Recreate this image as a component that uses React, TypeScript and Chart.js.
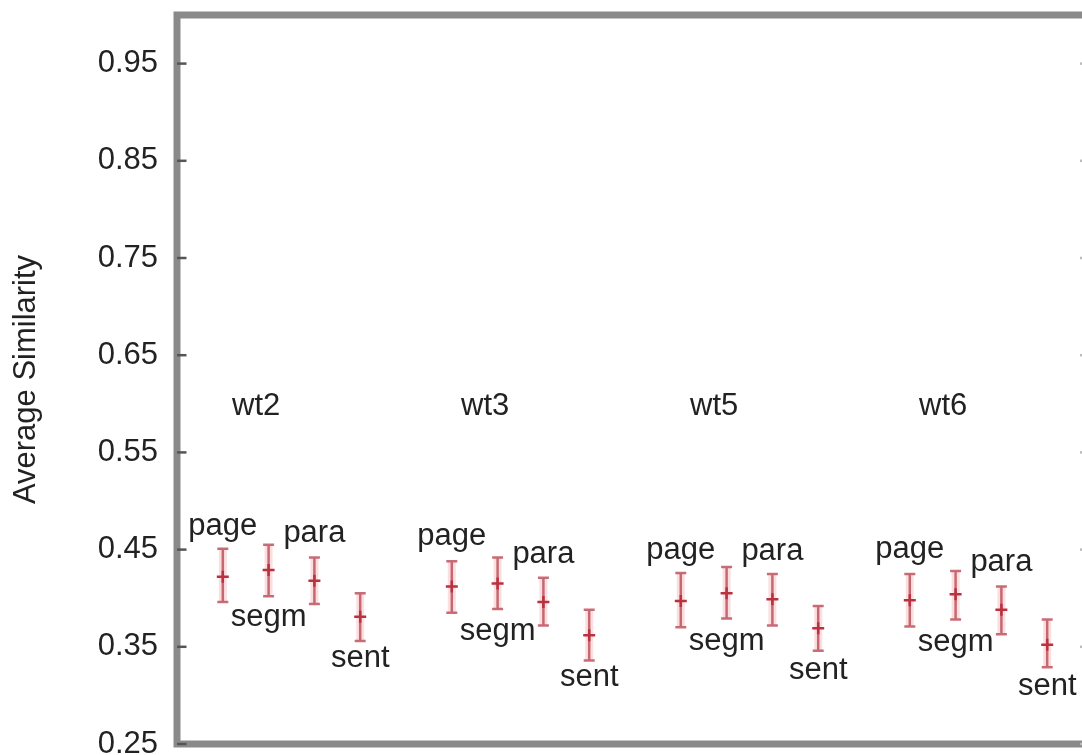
import React, { useEffect, useRef } from 'react';
import { Chart, registerables } from 'chart.js';

Chart.register(...registerables);

const groups = ['wt2', 'wt3', 'wt5', 'wt6'];
const units = ['page', 'segm', 'para', 'sent'];

const wt2Mean = [0.422, 0.429, 0.418, 0.381];
const wt2Low = [0.396, 0.402, 0.394, 0.356];
const wt2High = [0.451, 0.455, 0.442, 0.405];

const wt3Mean = [0.412, 0.415, 0.396, 0.362];
const wt3Low = [0.385, 0.389, 0.372, 0.336];
const wt3High = [0.438, 0.442, 0.421, 0.388];

const wt5Mean = [0.397, 0.405, 0.399, 0.369];
const wt5Low = [0.370, 0.379, 0.372, 0.346];
const wt5High = [0.426, 0.432, 0.425, 0.392];

const wt6Mean = [0.398, 0.404, 0.388, 0.352];
const wt6Low = [0.371, 0.378, 0.363, 0.329];
const wt6High = [0.425, 0.428, 0.412, 0.378];

const yTicks = [0.25, 0.35, 0.45, 0.55, 0.65, 0.75, 0.85, 0.95];

const means = [wt2Mean, wt3Mean, wt5Mean, wt6Mean];
const lows = [wt2Low, wt3Low, wt5Low, wt6Low];
const highs = [wt2High, wt3High, wt5High, wt6High];

// layout constants (not data)
const FONT = '"Liberation Sans", Arial, sans-serif';
const FONT_SIZE = 31;
const labelOffsets = [0.043, -0.058, 0.04, -0.052];
const groupLabelValue = 0.588;
const groupLabelShift = 1.73;
const posOf = (g: number, u: number) => g * 5 + u + 1;

const errorBarPlugin = {
  id: 'errorBars',
  beforeDatasetsDraw(chart: any) {
    const { ctx, scales } = chart;
    const x = scales.x;
    const y = scales.y;
    ctx.save();
    groups.forEach((_, g) => {
      units.forEach((__, u) => {
        const px = x.getPixelForValue(posOf(g, u));
        const top = y.getPixelForValue(highs[g][u]);
        const bot = y.getPixelForValue(lows[g][u]);
        // halo
        ctx.strokeStyle = 'rgba(245,160,170,0.35)';
        ctx.lineWidth = 8;
        ctx.beginPath();
        ctx.moveTo(px, top);
        ctx.lineTo(px, bot);
        ctx.stroke();
        // main line
        ctx.strokeStyle = 'rgba(185,75,85,0.8)';
        ctx.lineWidth = 2.5;
        ctx.beginPath();
        ctx.moveTo(px, top);
        ctx.lineTo(px, bot);
        ctx.moveTo(px - 5.5, top);
        ctx.lineTo(px + 5.5, top);
        ctx.moveTo(px - 5.5, bot);
        ctx.lineTo(px + 5.5, bot);
        ctx.stroke();
      });
    });
    ctx.restore();
  },
  afterDatasetsDraw(chart: any) {
    const { ctx, scales } = chart;
    const x = scales.x;
    const y = scales.y;
    ctx.save();
    ctx.fillStyle = '#222';
    ctx.font = `${FONT_SIZE}px ${FONT}`;
    ctx.textAlign = 'center';
    ctx.textBaseline = 'alphabetic';
    groups.forEach((name, g) => {
      ctx.fillText(name, x.getPixelForValue(g * 5 + groupLabelShift), y.getPixelForValue(groupLabelValue));
      units.forEach((unit, u) => {
        const px = x.getPixelForValue(posOf(g, u));
        const py = y.getPixelForValue(means[g][u] + labelOffsets[u]);
        ctx.fillText(unit, px, py);
      });
    });
    ctx.restore();
  },
};

const framePlugin = {
  id: 'frame',
  afterDraw(chart: any) {
    const { ctx, chartArea, scales } = chart;
    const y = scales.y;
    ctx.save();
    ctx.strokeStyle = '#8a8a8a';
    ctx.lineWidth = 7;
    ctx.strokeRect(chartArea.left, chartArea.top, chartArea.right - chartArea.left, chartArea.bottom - chartArea.top);
    ctx.lineWidth = 2.5;
    yTicks.forEach((v) => {
      const py = y.getPixelForValue(v);
      ctx.strokeStyle = '#555';
      ctx.beginPath();
      ctx.moveTo(chartArea.left, py);
      ctx.lineTo(chartArea.left + 9.5, py);
      ctx.stroke();
      ctx.strokeStyle = '#bbb';
      ctx.beginPath();
      ctx.moveTo(chartArea.right, py);
      ctx.lineTo(chartArea.right - 13, py);
      ctx.stroke();
    });
    ctx.restore();
  },
};

export default function App() {
  const ref = useRef<HTMLCanvasElement | null>(null);

  useEffect(() => {
    if (!ref.current) return;
    const points: { x: number; y: number }[] = [];
    groups.forEach((_, g) => units.forEach((__, u) => points.push({ x: posOf(g, u), y: means[g][u] })));

    const chart = new Chart(ref.current, {
      type: 'scatter',
      data: {
        datasets: [
          {
            data: points,
            pointStyle: 'cross',
            pointRadius: 6,
            pointBorderWidth: 2.5,
            pointBorderColor: '#b8323f',
            pointBackgroundColor: '#b8323f',
            showLine: false,
          } as any,
        ],
      },
      options: {
        responsive: false,
        animation: false,
        devicePixelRatio: 1,
        layout: { padding: { left: 0, top: 15, right: 17, bottom: 11 } },
        plugins: { legend: { display: false }, tooltip: { enabled: false } },
        scales: {
          x: { type: 'linear', min: 0, max: 20, display: false },
          y: {
            type: 'linear',
            min: 0.25,
            max: 1.0,
            afterBuildTicks: (s: any) => {
              s.ticks = yTicks.map((v) => ({ value: v }));
            },
            afterFit: (s: any) => {
              s.width = 177;
              s.paddingTop = 0;
              s.paddingBottom = 0;
            },
            grid: { display: false, drawTicks: false },
            border: { display: false },
            ticks: {
              color: '#222',
              font: { family: FONT, size: FONT_SIZE },
              padding: 19,
              autoSkip: false,
              callback: (v: any) => Number(v).toFixed(2),
            },
            title: {
              display: true,
              text: 'Average Similarity',
              color: '#222',
              font: { family: FONT, size: FONT_SIZE },
              padding: { top: 8, bottom: 0 },
            },
          },
        },
      },
      plugins: [errorBarPlugin, framePlugin],
    });
    return () => chart.destroy();
  }, []);

  return (
    <div style={{ position: 'fixed', left: 0, top: 0, width: 1082, height: 755, overflow: 'hidden', background: '#fff' }}>
      <canvas ref={ref} width={1110} height={755} style={{ width: 1110, height: 755, display: 'block' }} />
    </div>
  );
}
